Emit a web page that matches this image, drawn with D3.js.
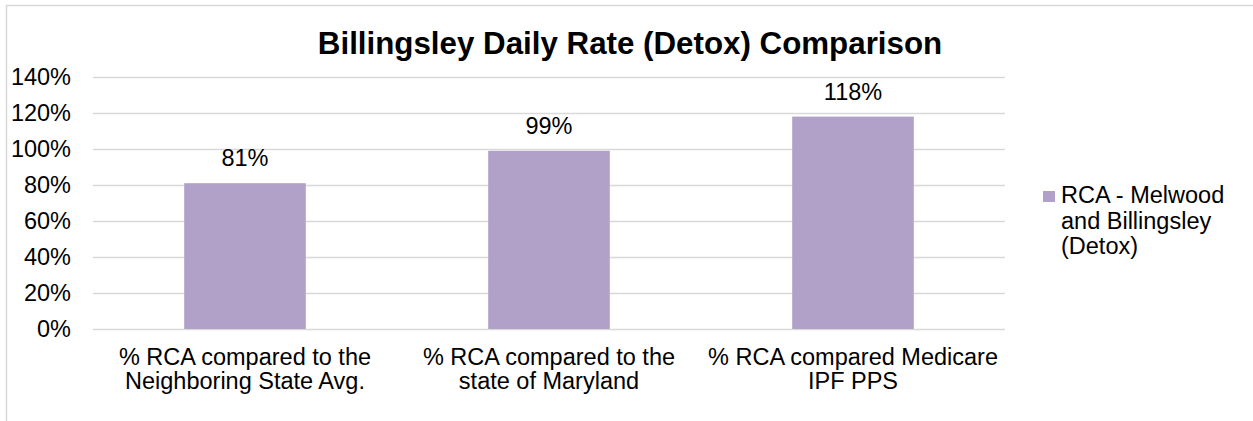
<!DOCTYPE html>
<html><head><meta charset="utf-8">
<script src="https://cdn.jsdelivr.net/npm/d3@7"></script>
<style>
html,body{margin:0;padding:0;background:#fff;}
svg{display:block;font-family:Arial,"Liberation Sans",sans-serif;}
</style></head>
<body><svg id="c" width="1253" height="421"></svg>
<script>
const title = "Billingsley Daily Rate (Detox) Comparison";
const categories = [
  ["% RCA compared to the", "Neighboring State Avg."],
  ["% RCA compared to the", "state of Maryland"],
  ["% RCA compared Medicare", "IPF PPS"]
];
const values = [0.81, 0.99, 1.18];
const valueLabels = ["81%", "99%", "118%"];
const yTicks = [0, 0.2, 0.4, 0.6, 0.8, 1.0, 1.2, 1.4];
const seriesName = ["RCA - Melwood", "and Billingsley", "(Detox)"];

const svg = d3.select("#c");
const W = 1253, H = 421;
const m = {left: 93, right: 1005, top: 77, bottom: 329};
const barColor = "#B1A0C7";
const gridColor = "#D9D9D9";
const fs = 23.5;

// chart border
svg.append("rect").attr("x", 6.5).attr("y", 5.5).attr("width", W + 20).attr("height", H + 20)
  .attr("fill", "#fff").attr("stroke", gridColor).attr("stroke-width", 1.5);

const x = d3.scaleBand().domain(d3.range(categories.length))
  .range([m.left, m.right]).paddingInner(0.6).paddingOuter(0.3);
const y = d3.scaleLinear().domain([0, 1.4]).range([m.bottom, m.top]);

// gridlines
svg.append("g").selectAll("line").data(yTicks).join("line")
  .attr("x1", m.left).attr("x2", m.right)
  .attr("y1", d => Math.round(y(d)) + 0.5).attr("y2", d => Math.round(y(d)) + 0.5)
  .attr("stroke", gridColor).attr("stroke-width", 1.5);

// y axis labels
const yAxis = d3.axisLeft(y).tickValues(yTicks).tickFormat(d3.format(".0%")).tickSize(0).tickPadding(22);
const ga = svg.append("g").attr("transform", `translate(${m.left},0)`).call(yAxis);
ga.select(".domain").remove();
ga.selectAll("text").attr("font-size", fs).attr("fill", "#000")
  .attr("font-family", "Arial, 'Liberation Sans', sans-serif");

// bars
svg.append("g").selectAll("rect").data(values).join("rect")
  .attr("x", (d, i) => x(i)).attr("width", x.bandwidth())
  .attr("y", d => y(d)).attr("height", d => y(0) - y(d))
  .attr("fill", barColor);

// data labels
svg.append("g").selectAll("text").data(values).join("text")
  .attr("x", (d, i) => x(i) + x.bandwidth() / 2)
  .attr("y", d => y(d) - 17)
  .attr("text-anchor", "middle").attr("font-size", fs).attr("fill", "#000")
  .text((d, i) => valueLabels[i]);

// category labels (one text per line)
const lines = categories.flatMap((c, i) => c.map((t, j) => ({t, i, j})));
svg.append("g").selectAll("text").data(lines).join("text")
  .attr("text-anchor", "middle").attr("font-size", fs).attr("fill", "#000")
  .attr("x", d => x(d.i) + x.bandwidth() / 2)
  .attr("y", d => 365 + d.j * 24)
  .text(d => d.t);

// title
svg.append("text").attr("x", 630).attr("y", 54).attr("text-anchor", "middle")
  .attr("font-size", 31.3).attr("font-weight", "bold").attr("fill", "#000").text(title);

// legend
svg.append("rect").attr("x", 1043).attr("y", 191).attr("width", 12).attr("height", 11).attr("fill", barColor);
svg.append("g").selectAll("text").data(seriesName).join("text")
  .attr("x", 1061).attr("y", (d, i) => 203 + i * 25.5)
  .attr("font-size", fs).attr("fill", "#000").text(d => d);
</script></body></html>
